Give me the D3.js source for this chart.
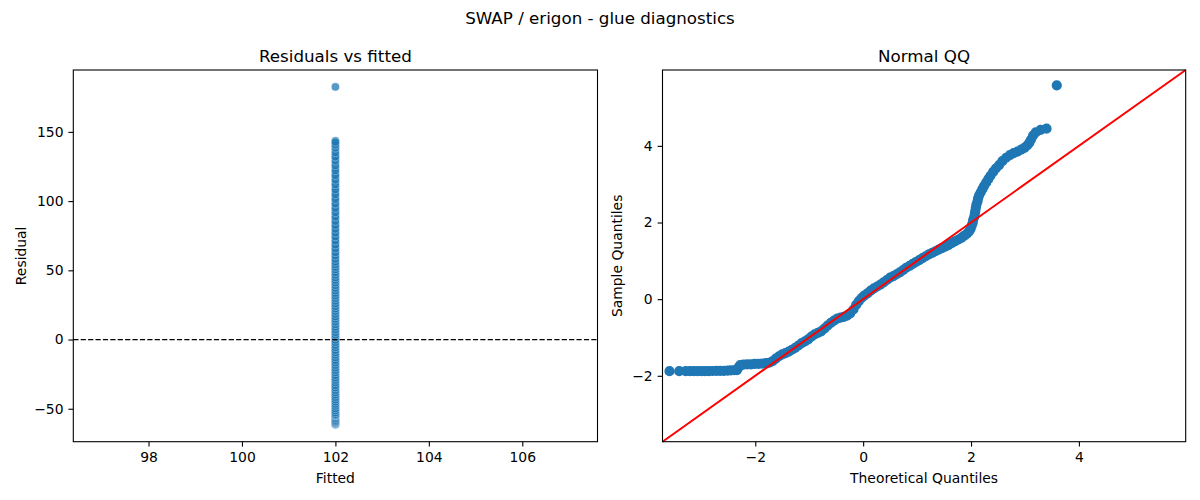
<!DOCTYPE html>
<html>
<head>
<meta charset="utf-8">
<script src="https://cdn.jsdelivr.net/npm/d3@7"></script>
<style>
  body { margin: 0; background: #fff; }
  svg { font-family: "DejaVu Sans", sans-serif; }
</style>
</head>
<body>
<svg id="drawing_region"></svg>
<script>
// ---- data ----
const fittedValue = 102;

const residuals = [
    -61.6, -61.2, -60.9, -60.5, -60.1, -59.6, -58.8, -57.9, -56.4, -55.2,
    -54.8, -54.3, -53.5, -52.1, -50.6, -49.0, -47.3, -45.9, -44.2, -42.6,
    -40.8, -39.1, -37.5, -35.6, -34.0, -32.2, -30.1, -28.5, -26.7, -24.9,
    -23.0, -21.4, -19.5, -17.8, -15.9, -14.2, -12.1, -10.4, -8.7, -6.8,
    -4.9, -3.1, -1.2, 0.6, 2.5, 4.3, 6.2, 8.1, 10.0, 11.8,
    13.9, 15.6, 17.4, 19.5, 21.3, 23.1, 25.0, 26.8, 28.9, 30.7,
    32.6, 34.4, 36.3, 38.2, 40.1, 42.0, 43.8, 45.7, 47.5, 49.6,
    51.4, 53.2, 55.1, 57.0, 59.3, 61.7, 64.2, 67.0, 69.8, 72.9,
    75.8, 78.4, 81.3, 84.0, 87.1, 90.2, 93.4, 96.5, 99.8, 103.1,
    106.5, 110.2, 113.6, 117.0, 120.3, 123.9, 127.4, 130.8, 133.2, 136.9,
    139.8, 141.5, 143.6, 182.5,
    -61.4, -61.0, -60.7, -60.3, -59.9, -59.2, -58.3, -57.2, -55.9, -55.0,
    -54.6, -54.0, -52.8, -51.3, -49.8, -48.1, -46.6, -45.0, -43.4, -41.7,
    -40.0, -38.3, -36.6, -34.8, -33.1, -31.1, -29.3, -27.6, -25.8, -23.9,
    -22.2, -20.4, -18.6, -16.8, -15.0, -13.1, -11.2, -9.5, -7.7, -5.8,
    -4.0, -2.1, -0.3, 1.6, 3.4, 5.2, 7.1, 9.0, 10.9, 12.8,
    14.7, 16.5, 18.4, 20.4, 22.2, 24.0, 25.9, 27.8, 29.8, 31.6,
    33.5, 35.3, 37.2, 39.1, 41.0, 42.9, 44.7, 46.6, 48.5, 50.5,
    52.3, 54.1, 56.0, 58.1, 60.5, 62.9, 65.6, 68.4, 71.3, 74.3,
    77.1, 79.8, 82.6, 85.5, 88.6, 91.8, 94.9, 98.1, 101.4, 104.8,
    108.3, 111.9, 115.3, 118.6, 122.1, 125.6, 129.1, 132.0, 135.0, 138.4,
    140.6, 142.6
];

const qqTheoretical = [
    -3.59, -3.41, -3.29, -3.21, -3.14, -3.07, -3.00, -2.93, -2.86, -2.79,
    -2.72, -2.65, -2.58, -2.51, -2.45, -2.39, -2.34, -2.31, -2.28, -2.22,
    -2.15, -2.08, -2.01, -1.94, -1.87, -1.80, -1.74, -1.68, -1.62, -1.56,
    -1.50, -1.44, -1.38, -1.32, -1.26, -1.20, -1.14, -1.08, -1.02, -0.96,
    -0.90, -0.84, -0.78, -0.72, -0.66, -0.60, -0.54, -0.48, -0.42, -0.36,
    -0.30, -0.24, -0.18, -0.13, -0.08, -0.03, 0.02, 0.08, 0.14, 0.20,
    0.26, 0.32, 0.38, 0.44, 0.50, 0.56, 0.62, 0.68, 0.74, 0.80,
    0.86, 0.92, 0.98, 1.04, 1.10, 1.16, 1.22, 1.28, 1.34, 1.40,
    1.46, 1.52, 1.58, 1.64, 1.70, 1.76, 1.82, 1.87, 1.92, 1.96,
    1.99, 2.01, 2.03, 2.04, 2.06, 2.07, 2.08, 2.09, 2.10, 2.12,
    2.13, 2.15, 2.18, 2.21, 2.24, 2.28, 2.32, 2.36, 2.41, 2.46,
    2.52, 2.58, 2.65, 2.72, 2.79, 2.86, 2.93, 2.99, 3.04, 3.08,
    3.11, 3.15, 3.20, 3.29, 3.40, 3.59
];

const qqSample = [
    -1.88, -1.88, -1.88, -1.88, -1.88, -1.88, -1.88, -1.88, -1.88, -1.875,
    -1.87, -1.87, -1.87, -1.865, -1.86, -1.855, -1.85, -1.78, -1.72, -1.71,
    -1.70, -1.70, -1.69, -1.69, -1.68, -1.67, -1.66, -1.62, -1.55, -1.49,
    -1.44, -1.41, -1.37, -1.32, -1.27, -1.21, -1.15, -1.10, -1.05, -0.98,
    -0.92, -0.88, -0.84, -0.77, -0.69, -0.62, -0.56, -0.51, -0.48, -0.46,
    -0.43, -0.37, -0.27, -0.15, -0.05, 0.03, 0.09, 0.15, 0.22, 0.28,
    0.33, 0.38, 0.44, 0.50, 0.56, 0.60, 0.65, 0.70, 0.76, 0.82,
    0.87, 0.92, 0.97, 1.02, 1.07, 1.12, 1.17, 1.21, 1.25, 1.29,
    1.33, 1.37, 1.41, 1.46, 1.51, 1.55, 1.60, 1.65, 1.70, 1.76,
    1.83, 1.91, 1.99, 2.07, 2.15, 2.23, 2.31, 2.39, 2.47, 2.55,
    2.63, 2.71, 2.79, 2.87, 2.95, 3.04, 3.13, 3.22, 3.32, 3.41,
    3.50, 3.60, 3.69, 3.76, 3.81, 3.85, 3.90, 3.95, 4.01, 4.08,
    4.16, 4.27, 4.35, 4.42, 4.45, 5.58
];

const fittedTicks = [98, 100, 102, 104, 106];
const residualTicks = [-50, 0, 50, 100, 150];
const qqTicks = [-2, 0, 2, 4];

// ---- layout ----
const W = 1200, H = 500;
const plotTop = 70, plotBottom = 441.7;
const leftPanel = { x0: 73.3, x1: 597.5 };
const rightPanel = { x0: 662.5, x1: 1185.7 };
const blue = '#1f77b4';

const fmt = d => d < 0 ? '\u2212' + Math.abs(d) : String(d);

const svg = d3.select('#drawing_region')
    .attr('width', W)
    .attr('height', H);

svg.append('rect').attr('width', W).attr('height', H).attr('fill', '#fff');

svg.append('text')
    .attr('x', 600).attr('y', 24.4)
    .attr('text-anchor', 'middle')
    .style('font-size', '16.7px')
    .text('SWAP / erigon - glue diagnostics');

function pad(ext) {
    const m = (ext[1] - ext[0]) * 0.05;
    return [ext[0] - m, ext[1] + m];
}

function drawAxes(x, y, xTicks, yTicks, panel) {
    const gx = svg.append('g')
        .attr('transform', `translate(0,${plotBottom})`)
        .call(d3.axisBottom(x).tickValues(xTicks).tickFormat(fmt).tickSize(4.9).tickPadding(5.5));
    const gy = svg.append('g')
        .attr('transform', `translate(${panel.x0},0)`)
        .call(d3.axisLeft(y).tickValues(yTicks).tickFormat(fmt).tickSize(4.9).tickPadding(4.9));

    [gx, gy].forEach(g => {
        g.attr('font-family', null).attr('font-size', null);
        g.select('.domain').remove();
        g.selectAll('line').attr('stroke', '#000').attr('stroke-width', 1.1);
        g.selectAll('text').attr('fill', '#000').style('font-size', '13.9px');
    });

    svg.append('rect')
        .attr('x', panel.x0).attr('y', plotTop)
        .attr('width', panel.x1 - panel.x0)
        .attr('height', plotBottom - plotTop)
        .attr('fill', 'none')
        .attr('stroke', '#000')
        .attr('stroke-width', 1.1);
}

function labels(panel, title, xlab, ylab, ylabX) {
    const cx = (panel.x0 + panel.x1) / 2;
    svg.append('text')
        .attr('x', cx).attr('y', 61.5)
        .attr('text-anchor', 'middle')
        .style('font-size', '16.7px')
        .text(title);
    svg.append('text')
        .attr('x', cx).attr('y', 482.5)
        .attr('text-anchor', 'middle')
        .style('font-size', '13.9px')
        .text(xlab);
    svg.append('text')
        .attr('transform', `translate(${ylabX},${(plotTop + plotBottom) / 2}) rotate(-90)`)
        .attr('text-anchor', 'middle')
        .style('font-size', '13.9px')
        .text(ylab);
}

// ---- residuals vs fitted ----
{
    // single fitted value: matplotlib widens by 5% of the value, then adds 5% margins
    const xr = pad([fittedValue * 0.95, fittedValue * 1.05]);
    const x = d3.scaleLinear().domain(xr).range([leftPanel.x0, leftPanel.x1]);
    const y = d3.scaleLinear().domain(pad(d3.extent(residuals))).range([plotBottom, plotTop]);

    svg.append('g').selectAll('circle')
        .data(residuals)
        .enter()
        .append('circle')
        .attr('cx', x(fittedValue))
        .attr('cy', d => y(d))
        .attr('r', 4.1)
        .attr('fill', blue)
        .attr('stroke', '#fff')
        .attr('stroke-width', 0.45)
        .attr('opacity', 0.75);

    svg.append('line')
        .attr('x1', leftPanel.x0).attr('x2', leftPanel.x1)
        .attr('y1', y(0)).attr('y2', y(0))
        .attr('stroke', '#000')
        .attr('stroke-width', 1.3)
        .attr('stroke-dasharray', '5.2,2.2');

    drawAxes(x, y, fittedTicks, residualTicks, leftPanel);
    labels(leftPanel, 'Residuals vs fitted', 'Fitted', 'Residual', 26);
}

// ---- normal QQ ----
{
    const lim = [-3.72, 5.98];
    const x = d3.scaleLinear().domain(lim).range([rightPanel.x0, rightPanel.x1]);
    const y = d3.scaleLinear().domain(lim).range([plotBottom, plotTop]);

    const pts = qqTheoretical.map((t, i) => ({ t: t, s: qqSample[i] }));

    svg.append('g').selectAll('circle')
        .data(pts)
        .enter()
        .append('circle')
        .attr('cx', d => x(d.t))
        .attr('cy', d => y(d.s))
        .attr('r', 4.4)
        .attr('fill', blue)
        .attr('stroke', blue)
        .attr('stroke-width', 1.4);

    // 45 degree reference line across the whole axes
    svg.append('line')
        .attr('x1', x(lim[0])).attr('y1', y(lim[0]))
        .attr('x2', x(lim[1])).attr('y2', y(lim[1]))
        .attr('stroke', 'red')
        .attr('stroke-width', 2);

    drawAxes(x, y, qqTicks, qqTicks, rightPanel);
    labels(rightPanel, 'Normal QQ', 'Theoretical Quantiles', 'Sample Quantiles', 622);
}
</script>
</body>
</html>
